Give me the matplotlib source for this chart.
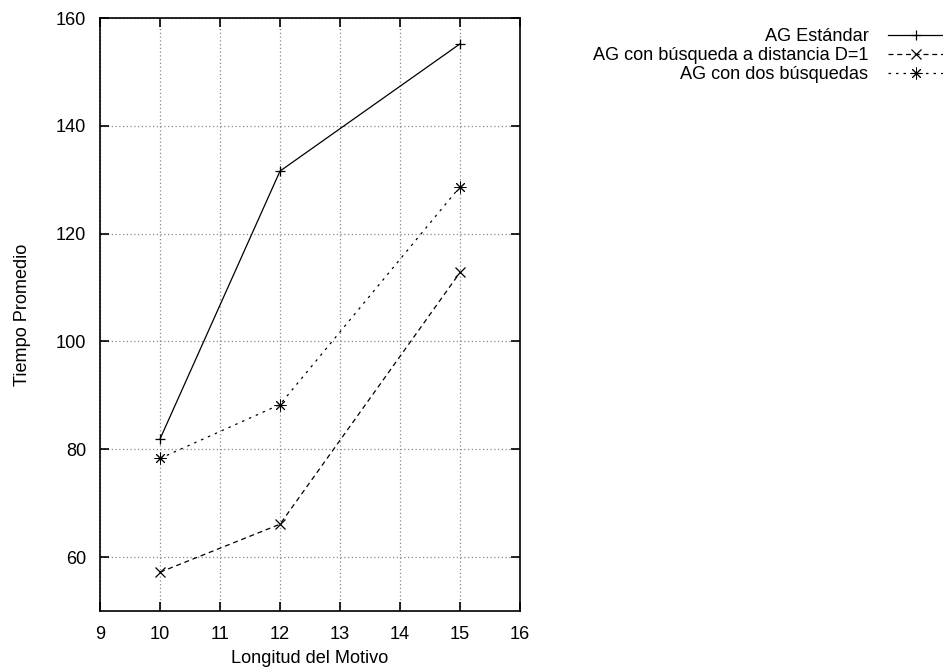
import matplotlib.pyplot as plt

# Average time vs motif length for the three GA variants
longitud = [10, 12, 15]
ag_estandar = [81.9, 131.6, 155.2]
ag_distancia = [57.2, 66.1, 112.8]
ag_dos = [78.3, 88.3, 128.7]

etiquetas = ['AG Estándar', 'AG con búsqueda a distancia D=1', 'AG con dos búsquedas']
xticks = [9, 10, 11, 12, 13, 14, 15, 16]
yticks = [60, 80, 100, 120, 140, 160]

plt.rcParams['font.family'] = ['Liberation Sans', 'DejaVu Sans']
plt.rcParams['font.size'] = 13.1

fig = plt.figure(figsize=(9.43, 6.71), dpi=100)
ax = fig.add_axes([100/943, 1 - 611/671, 420/943, 593/671])

ax.plot(longitud, ag_estandar, color='black', lw=0.9, linestyle='-',
        marker='+', markersize=7, markeredgewidth=0.9, label=etiquetas[0])
ax.plot(longitud, ag_distancia, color='black', lw=0.9, linestyle=(0, (4, 3)),
        marker='x', markersize=6.5, markeredgewidth=0.9, label=etiquetas[1])
ax.plot(longitud, ag_dos, color='black', lw=0.9, linestyle=(0, (2, 4)),
        marker=(8, 2, 0), markersize=8.5, markeredgewidth=0.7, label=etiquetas[2])

ax.set_xlim(9, 16)
ax.set_ylim(50, 160)
ax.set_xticks(xticks)
ax.set_yticks(yticks)
ax.tick_params(direction='in', length=6.5, width=1.2, top=True, right=True)
ax.tick_params(axis='x', pad=11)
ax.tick_params(axis='y', pad=10)
ax.grid(True, linestyle=(0, (1, 2)), color='#888888', linewidth=0.9)
for s in ax.spines.values():
    s.set_linewidth(1.2)

ax.set_xlabel('Longitud del Motivo', labelpad=5)
ax.set_ylabel('Tiempo Promedio', labelpad=18)

ax.legend(loc='upper right', bbox_to_anchor=(943/943, 1 - 28/671),
          bbox_transform=fig.transFigure, frameon=False, markerfirst=False,
          borderpad=0, borderaxespad=0, labelspacing=0.12,
          handlelength=3.0, handletextpad=1.1)

fig.savefig('out.png', dpi=100)
